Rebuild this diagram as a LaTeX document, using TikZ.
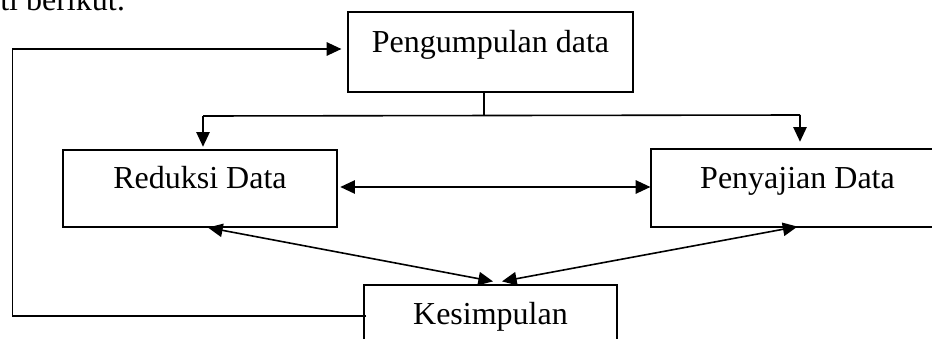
\documentclass[tikz,border=0pt]{standalone}
\usepackage{fontspec}
\setmainfont{Liberation Serif}
\usepackage{tikz}
\usetikzlibrary{arrows.meta,positioning,calc}

\begin{document}
\begin{tikzpicture}[x=0.75pt,y=-0.75pt,
  box/.style={draw, line width=0.9pt, inner sep=0pt, text height=12pt, text depth=12pt, font=\fontsize{24}{28}\selectfont},
  link/.style={line width=1.2pt},
  arr/.style={link, -{Triangle[length=11pt,width=10pt]}},
  darr/.style={link, {Triangle[length=11pt,width=10pt]}-{Triangle[length=11pt,width=10pt]}}]
\clip (0,0) rectangle (932,339);
\node[anchor=base west, inner sep=0pt, font=\fontsize{24}{28}\selectfont] (intro) at (0,10) {ti berikut:};
\node[box, minimum width=213.75pt, minimum height=60pt] (kumpul) at (490.5,52) {Pengumpulan data};
\node[box, minimum width=205.5pt, minimum height=57.75pt] (reduksi) at (200,188.5) {Reduksi Data};
\node[box, minimum width=219.75pt, minimum height=58.5pt] (sajian) at (797.5,188) {Penyajian Data};
\node[box, minimum width=189.75pt, minimum height=58.5pt] (simpul) at (490.5,324) {Kesimpulan};
% cabang dari pengumpulan data
\coordinate (cabang) at (484,116);
\coordinate (cabangL) at (203,116);
\coordinate (cabangR) at (800,115);
\draw[link] (kumpul.south -| cabang) -- (cabang);
\draw[link] (cabangL) -- (cabangR);
\draw[arr, shorten >=2pt] (cabangL) -- (cabangL |- reduksi.north);
\draw[arr, shorten >=5pt] (cabangR) -- (cabangR |- sajian.north);
% hubungan dua arah
\draw[darr, shorten <=2pt] ($(reduksi.east)+(0,-1.5)$) -- ($(sajian.west)+(0,-1)$);
\draw[darr] ($(reduksi.south)+(8,0)$) -- ($(simpul.north)+(2.5,-3)$);
\draw[darr] ($(sajian.south)+(0,-1)$) -- ($(simpul.north)+(11.5,-3)$);
% umpan balik
\draw[arr] ($(simpul.west)+(3,-8)$) -- ++(-354,0) |- ($(kumpul.west)+(-6,-3)$);
\end{tikzpicture}
\end{document}
